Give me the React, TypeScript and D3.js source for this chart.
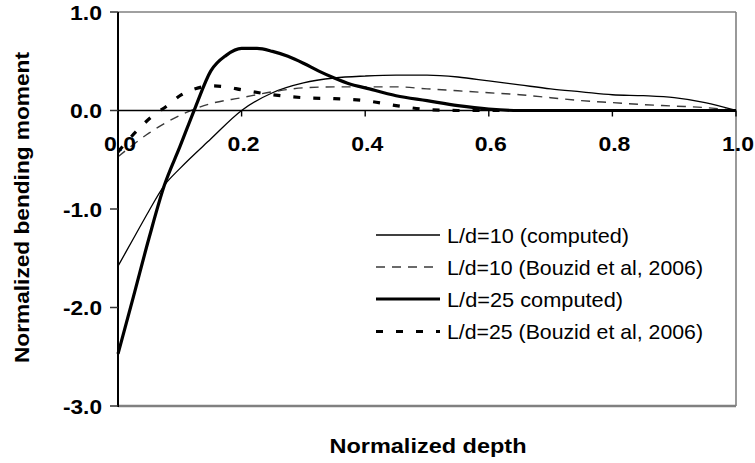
import React from "react";
import * as d3 from "d3";

// ---- data ----
const xTicks = [0, 0.2, 0.4, 0.6, 0.8, 1.0];
const yTicks = [1.0, 0.0, -1.0, -2.0, -3.0];

const thinX = [0, 0.025, 0.05, 0.075, 0.1, 0.15, 0.2, 0.25, 0.3, 0.35, 0.4, 0.45, 0.5, 0.55, 0.6, 0.65, 0.7, 0.75, 0.8, 0.85, 0.9, 0.95, 1.0];
const thinY = [-1.58, -1.3, -1.02, -0.76, -0.59, -0.29, 0.0, 0.18, 0.28, 0.33, 0.35, 0.36, 0.36, 0.34, 0.3, 0.26, 0.22, 0.19, 0.16, 0.15, 0.13, 0.08, 0];

const dashX = [0, 0.05, 0.1, 0.15, 0.2, 0.25, 0.3, 0.35, 0.4, 0.45, 0.5, 0.55, 0.6, 0.65, 0.7, 0.75, 0.8, 0.85, 0.9, 0.95, 1.0];
const dashY = [-0.47, -0.23, -0.05, 0.07, 0.13, 0.19, 0.23, 0.24, 0.24, 0.24, 0.22, 0.2, 0.18, 0.16, 0.13, 0.1, 0.08, 0.06, 0.045, 0.03, 0];

const thickX = [0, 0.025, 0.05, 0.075, 0.1, 0.125, 0.15, 0.175, 0.2, 0.225, 0.25, 0.275, 0.3, 0.325, 0.35, 0.375, 0.4, 0.45, 0.5, 0.55, 0.6, 0.65, 0.7, 0.75, 0.8, 0.85, 0.9, 0.95, 1.0];
const thickY = [-2.47, -1.89, -1.3, -0.76, -0.37, 0.03, 0.4, 0.56, 0.63, 0.63, 0.6, 0.55, 0.48, 0.4, 0.33, 0.27, 0.23, 0.15, 0.1, 0.05, 0.015, 0, 0, 0, 0, 0, 0, 0, 0];

const dotX = [0, 0.03, 0.055, 0.08, 0.1, 0.125, 0.15, 0.175, 0.2, 0.25, 0.3, 0.35, 0.4, 0.45, 0.5, 0.55, 0.6, 0.7, 0.8, 0.9, 1.0];
const dotY = [-0.42, -0.21, -0.06, 0.05, 0.15, 0.22, 0.25, 0.24, 0.21, 0.16, 0.13, 0.12, 0.1, 0.05, 0.01, 0, 0, 0, 0, 0, 0];

const seriesNames = [
  "L/d=10 (computed)",
  "L/d=10 (Bouzid et al, 2006)",
  "L/d=25 computed)",
  "L/d=25 (Bouzid et al, 2006)",
];

const W = 755;
const H = 463;
const PL = 118, PR = 736, PT = 12, PB = 406;

export default function App() {
  const x = d3.scaleLinear().domain([0, 1]).range([PL, PR]);
  const y = d3.scaleLinear().domain([-3, 1]).range([PB, PT]);

  const mk = (xs: number[], ys: number[]) =>
    d3
      .line<number>()
      .x((_, i) => x(xs[i]))
      .y((v) => y(v))
      .curve(d3.curveMonotoneX)(ys) || "";

  const styles = [
    { stroke: "#000", width: 1.3, dash: undefined as string | undefined },
    { stroke: "#3a3a3a", width: 1.4, dash: "9,7" },
    { stroke: "#000", width: 3.2, dash: undefined },
    { stroke: "#000", width: 3.2, dash: "7,13" },
  ];
  const paths = [
    mk(thinX, thinY),
    mk(dashX, dashY),
    mk(thickX, thickY),
    mk(dotX, dotY),
  ];
  const legendY = [235, 267, 299, 331.5];
  const legendW = [182, 256, 176, 256];

  const font = "'Liberation Sans', Arial, sans-serif";

  return (
    <svg
      width={W}
      height={H}
      style={{ position: "absolute", left: 0, top: 0, background: "#fff" }}
      fontFamily={font}
    >
      <rect x={0} y={0} width={W} height={H} fill="#fff" />
      {/* plot frame */}
      <line x1={PL} y1={PT} x2={PR} y2={PT} stroke="#808080" strokeWidth={1.6} />
      <line x1={PR} y1={PT} x2={PR} y2={PB} stroke="#808080" strokeWidth={1.6} />
      <line x1={PL} y1={PB} x2={PR} y2={PB} stroke="#808080" strokeWidth={2.6} />

      {/* series */}
      {paths.map((d, i) => (
        <path
          key={i}
          d={d}
          fill="none"
          stroke={styles[i].stroke}
          strokeWidth={styles[i].width}
          strokeDasharray={styles[i].dash}
          strokeLinejoin="round"
        />
      ))}

      {/* x axis at zero */}
      <line x1={PL} y1={y(0)} x2={PR} y2={y(0)} stroke="#000" strokeWidth={1.6} />
      {xTicks.slice(1).map((t) => (
        <line key={t} x1={x(t)} x2={x(t)} y1={y(0)} y2={y(0) + 6} stroke="#000" strokeWidth={1.4} />
      ))}
      {xTicks.map((t) => (
        <text
          key={t}
          x={x(t) + 2}
          y={151}
          textAnchor="middle"
          fontSize={21}
          fontWeight="bold"
          textLength={32}
          lengthAdjust="spacingAndGlyphs"
        >
          {t.toFixed(1)}
        </text>
      ))}

      {/* y axis */}
      <line x1={PL} y1={PT} x2={PL} y2={PB + 1} stroke="#000" strokeWidth={2} />
      {yTicks.map((t) => (
        <g key={t}>
          <line x1={PL - 8} x2={PL} y1={y(t)} y2={y(t)} stroke="#333" strokeWidth={1.5} />
          <text
            x={102}
            y={y(t) + 7.5}
            textAnchor="end"
            fontSize={21}
            fontWeight="bold"
            textLength={t < 0 ? 39 : 32}
            lengthAdjust="spacingAndGlyphs"
          >
            {t.toFixed(1)}
          </text>
        </g>
      ))}

      {/* axis titles */}
      <text
        x={428}
        y={453}
        textAnchor="middle"
        fontSize={21}
        fontWeight="bold"
        textLength={197}
        lengthAdjust="spacingAndGlyphs"
      >
        Normalized depth
      </text>
      <text
        transform={`translate(29, ${207.5}) rotate(-90)`}
        textAnchor="middle"
        fontSize={21}
        fontWeight="bold"
        textLength={311}
        lengthAdjust="spacingAndGlyphs"
      >
        Normalized bending moment
      </text>

      {/* legend */}
      {seriesNames.map((name, i) => (
        <g key={name}>
          <line
            x1={376}
            x2={440}
            y1={legendY[i]}
            y2={legendY[i]}
            stroke={styles[i].stroke}
            strokeWidth={styles[i].width}
            strokeDasharray={styles[i].dash}
          />
          <text
            x={447}
            y={legendY[i] + 7.5}
            fontSize={21}
            textLength={legendW[i]}
            lengthAdjust="spacingAndGlyphs"
          >
            {name}
          </text>
        </g>
      ))}
    </svg>
  );
}
